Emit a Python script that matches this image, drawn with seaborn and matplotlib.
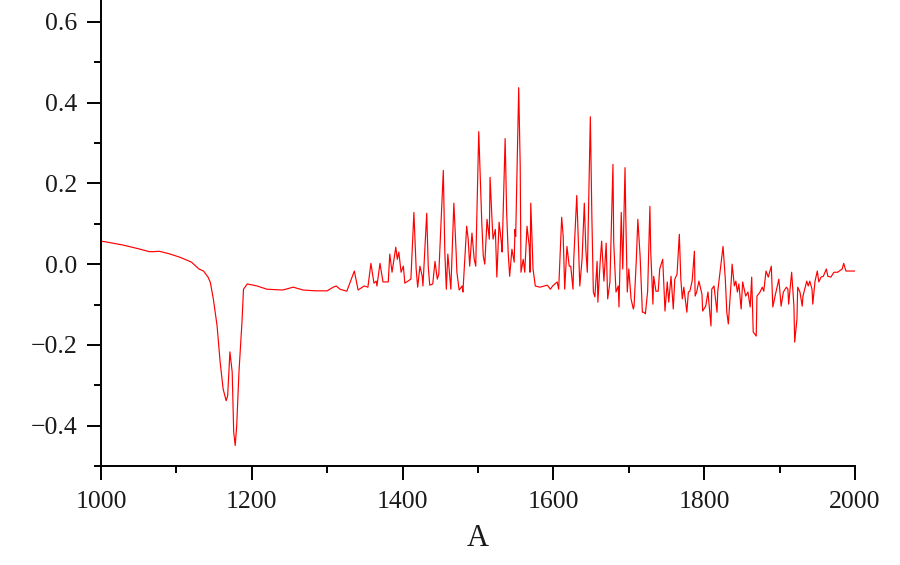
import numpy as np
import pandas as pd
import matplotlib
matplotlib.use("Agg")
import matplotlib.pyplot as plt
import seaborn as sns
from matplotlib.ticker import MultipleLocator

wavenumber = [
    1000, 1010, 1030, 1050, 1064, 1070, 1077, 1090, 1105, 1120, 1130, 1136, 1142, 1145, 1149,
    1154, 1158, 1162, 1166, 1168, 1171, 1174, 1176, 1178, 1180, 1183, 1187, 1189, 1194, 1207,
    1220, 1241, 1255, 1268, 1284, 1300, 1308, 1312, 1317, 1326, 1336, 1341, 1349, 1354, 1358,
    1362, 1365, 1366, 1370, 1374, 1381, 1383, 1386, 1391, 1393, 1395, 1398, 1401, 1403, 1407,
    1411, 1415, 1418, 1420, 1423, 1426, 1427, 1432, 1434, 1436, 1440, 1443, 1446, 1448, 1454,
    1456, 1458, 1460, 1462, 1464, 1468, 1471, 1472, 1475, 1479, 1480, 1485, 1487, 1489, 1492,
    1495, 1497, 1501, 1505, 1507, 1509, 1512, 1515, 1516, 1519, 1520, 1523, 1525, 1528, 1531,
    1532, 1536, 1538, 1540, 1542, 1545, 1548, 1549, 1550, 1554, 1556, 1557, 1560, 1562, 1565,
    1568, 1569, 1570, 1573, 1576, 1582, 1592, 1596, 1599, 1605, 1607, 1611, 1613, 1615, 1618,
    1621, 1623, 1626, 1627, 1631, 1633, 1635, 1638, 1641, 1643, 1645, 1649, 1651, 1653, 1655,
    1658, 1659, 1662, 1664, 1667, 1670, 1672, 1675, 1679, 1680, 1683, 1686, 1687, 1690, 1692,
    1695, 1696, 1698, 1700, 1703, 1706, 1707, 1710, 1712, 1715, 1718, 1720, 1722, 1725, 1728,
    1729, 1732, 1733, 1736, 1739, 1741, 1745, 1748, 1751, 1753, 1756, 1759, 1761, 1764, 1767,
    1769, 1771, 1773, 1777, 1779, 1781, 1784, 1787, 1788, 1790, 1793, 1797, 1798, 1802, 1805,
    1809, 1810, 1813, 1817, 1818, 1821, 1825, 1828, 1830, 1832, 1836, 1837, 1840, 1842, 1844,
    1846, 1849, 1851, 1855, 1858, 1861, 1863, 1865, 1869, 1870, 1874, 1877, 1879, 1882, 1885,
    1889, 1891, 1894, 1899, 1902, 1905, 1909, 1911, 1912, 1916, 1919, 1920, 1923, 1924, 1927,
    1930, 1931, 1934, 1936, 1938, 1940, 1943, 1944, 1947, 1950, 1952, 1955, 1958, 1962, 1964,
    1968, 1972, 1977, 1983, 1985, 1988, 1993, 2000,
]

signal = [
    0.057, 0.054, 0.047, 0.038, 0.031, 0.031, 0.032, 0.026, 0.017, 0.005, -0.012, -0.017, -0.032, -0.045, -0.086,
    -0.153, -0.242, -0.309, -0.338, -0.326, -0.217, -0.267, -0.415, -0.449, -0.400, -0.267, -0.143, -0.062, -0.049, -0.054,
    -0.062, -0.064, -0.057, -0.064, -0.066, -0.066, -0.057, -0.054, -0.062, -0.067, -0.017, -0.064, -0.054, -0.057, 0.002,
    -0.047, -0.042, -0.054, 0.002, -0.044, -0.044, 0.025, -0.020, 0.042, 0.012, 0.030, -0.020, -0.005, -0.047, -0.042,
    -0.037, 0.128, -0.012, -0.057, -0.005, -0.030, -0.054, 0.126, -0.005, -0.052, -0.049, 0.007, -0.037, -0.025, 0.232,
    0.030, -0.062, 0.025, -0.020, -0.062, 0.151, 0.030, -0.020, -0.064, -0.054, -0.069, 0.094, 0.062, -0.005, 0.077,
    0.012, -0.005, 0.328, 0.104, 0.020, 0.000, 0.111, 0.062, 0.215, 0.094, 0.062, 0.086, -0.032, 0.104, 0.054,
    0.030, 0.311, 0.128, 0.030, -0.030, 0.037, 0.005, 0.086, 0.069, 0.437, 0.242, -0.020, 0.012, -0.020, 0.094,
    0.044, -0.020, 0.151, -0.012, -0.054, -0.057, -0.052, -0.062, -0.054, -0.044, -0.062, 0.116, 0.069, -0.062, 0.044,
    -0.005, -0.005, -0.062, 0.012, 0.170, 0.062, -0.054, 0.012, 0.151, 0.037, -0.020, 0.365, 0.120, -0.069, -0.081,
    0.007, -0.094, 0.005, 0.057, -0.042, 0.052, -0.086, -0.044, 0.247, 0.054, -0.069, -0.054, -0.106, 0.128, -0.012,
    0.239, 0.119, -0.069, -0.012, -0.086, -0.111, -0.104, 0.012, 0.111, 0.020, -0.119, -0.119, -0.123, -0.067, 0.143,
    0.037, -0.099, -0.030, -0.067, -0.067, -0.012, 0.012, -0.116, -0.044, -0.094, -0.030, -0.111, -0.037, -0.025, 0.074,
    -0.037, -0.086, -0.057, -0.119, -0.069, -0.067, -0.042, 0.032, -0.079, -0.069, -0.042, -0.074, -0.116, -0.104, -0.069,
    -0.153, -0.062, -0.054, -0.119, -0.067, -0.020, 0.044, -0.037, -0.119, -0.148, -0.037, 0.000, -0.054, -0.042, -0.069,
    -0.049, -0.111, -0.044, -0.079, -0.069, -0.106, -0.032, -0.168, -0.178, -0.079, -0.069, -0.057, -0.067, -0.017, -0.032,
    -0.005, -0.106, -0.079, -0.037, -0.104, -0.069, -0.057, -0.062, -0.099, -0.020, -0.104, -0.193, -0.136, -0.057, -0.069,
    -0.104, -0.079, -0.057, -0.042, -0.054, -0.042, -0.062, -0.099, -0.042, -0.017, -0.044, -0.032, -0.030, -0.012, -0.030,
    -0.032, -0.020, -0.020, -0.012, 0.002, -0.017, -0.017, -0.017,
]

x_label = "A"
x_ticks = [1000, 1200, 1400, 1600, 1800, 2000]
y_ticks = [-0.4, -0.2, 0.0, 0.2, 0.4, 0.6]

df = pd.DataFrame({"A": wavenumber, "value": signal})

sns.set_style("ticks")
plt.rcParams["font.family"] = ["Liberation Serif", "DejaVu Serif"]

fig = plt.figure(figsize=(9, 5.65), dpi=100)
ax = fig.add_axes([0.1122, 0.175, 0.8378, 0.825])

sns.lineplot(data=df, x="A", y="value", ax=ax, color="#ff0000",
             linewidth=0.85, estimator=None, sort=False)

ax.set_xlim(1000, 2000)
ax.set_ylim(-0.5, 0.654)
ax.set_xticks(x_ticks)
ax.set_yticks(y_ticks)
ax.set_yticklabels([f"{v:.1f}".replace("-", "\u2212") for v in y_ticks])
ax.xaxis.set_minor_locator(MultipleLocator(100))
ax.yaxis.set_minor_locator(MultipleLocator(0.1))

ax.tick_params(axis="both", which="major", direction="out", length=10, width=1.4,
               labelsize=18.5, pad=7, color="black", labelcolor="#1a1a1a")
ax.tick_params(axis="both", which="minor", direction="out", length=5, width=1.4,
               color="black")
ax.tick_params(axis="x", which="major", pad=8)

for side in ["top", "right"]:
    ax.spines[side].set_visible(False)
for side in ["left", "bottom"]:
    ax.spines[side].set_linewidth(1.4)
    ax.spines[side].set_color("black")

ax.set_xlabel(x_label, fontsize=22, labelpad=8, color="#1a1a1a")
ax.set_ylabel("")

fig.savefig("out.png", dpi=100)
